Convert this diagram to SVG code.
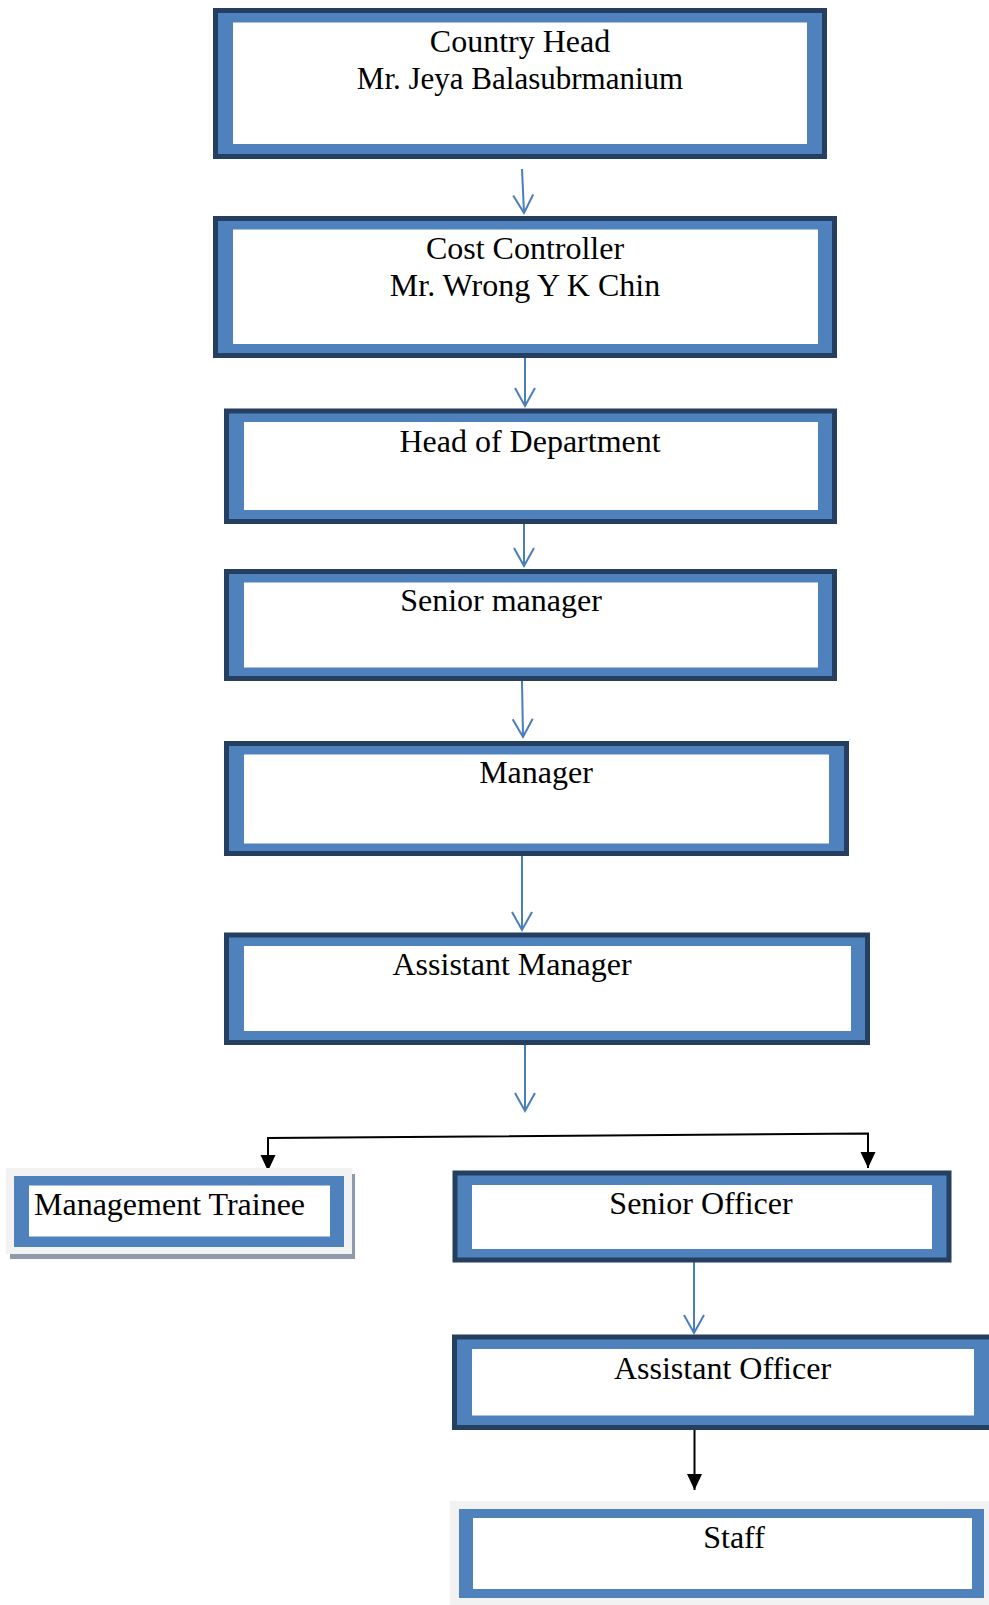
<svg xmlns="http://www.w3.org/2000/svg" width="989" height="1605" viewBox="0 0 989 1605">
<style>
.dark{fill:#243F60}
.blue{fill:#4F81BD}
.white{fill:#FFFFFF}
.lbl{font-family:"Liberation Serif","Times New Roman",serif;font-size:32px;fill:#000;text-anchor:middle}
.bc{stroke:#4A7EBB;stroke-width:2;fill:none}
.kc{stroke:#000;stroke-width:2;fill:none}
</style>
<defs>
<marker id="openBlue" markerUnits="userSpaceOnUse" markerWidth="30" markerHeight="30" refX="0" refY="0" orient="auto" overflow="visible">
<path d="M-18,-10 L0,0 L-18,10" fill="none" stroke="#4A7EBB" stroke-width="2"/>
</marker>
<marker id="solidBlack" markerUnits="userSpaceOnUse" markerWidth="20" markerHeight="20" refX="0" refY="0" orient="auto" overflow="visible">
<path d="M-16,-7.5 L0,0 L-16,7.5 Z" fill="#000"/>
</marker>
</defs>
<rect width="989" height="1605" fill="#FFFFFF"/>

<g id="connectors">
<line class="bc" x1="522" y1="169" x2="524" y2="213" marker-end="url(#openBlue)"/>
<line class="bc" x1="525" y1="358" x2="525" y2="406" marker-end="url(#openBlue)"/>
<line class="bc" x1="524" y1="524" x2="524" y2="566" marker-end="url(#openBlue)"/>
<line class="bc" x1="522" y1="681" x2="523" y2="737" marker-end="url(#openBlue)"/>
<line class="bc" x1="522" y1="856" x2="522" y2="930" marker-end="url(#openBlue)"/>
<line class="bc" x1="525" y1="1045" x2="525" y2="1111" marker-end="url(#openBlue)"/>
<path class="kc" d="M268,1150 L268,1138 L868,1133.5 L868,1150"/>
<line class="kc" x1="268" y1="1150" x2="268" y2="1171" marker-end="url(#solidBlack)"/>
<line class="kc" x1="868" y1="1150" x2="868" y2="1168" marker-end="url(#solidBlack)"/>
<line class="bc" x1="694" y1="1262" x2="694" y2="1333" marker-end="url(#openBlue)"/>
<line class="kc" x1="694.5" y1="1430" x2="694.5" y2="1490" marker-end="url(#solidBlack)"/>
</g>

<g id="country-head">
<rect class="dark" x="213" y="8" width="614" height="151"/>
<rect class="blue" x="218" y="13" width="604" height="141"/>
<rect class="white" x="233" y="22.5" width="574" height="121.5"/>
<text class="lbl" x="520" y="51.5">Country Head</text>
<text class="lbl" x="520" y="88.5" style="font-size:31px">Mr. Jeya Balasubrmanium</text>
</g>

<g id="cost-controller">
<rect class="dark" x="213" y="216" width="624" height="142"/>
<rect class="blue" x="218" y="221" width="614" height="132"/>
<rect class="white" x="233" y="229.5" width="585" height="114.5"/>
<text class="lbl" x="525" y="259">Cost Controller</text>
<text class="lbl" x="525" y="296">Mr. Wrong Y K Chin</text>
</g>

<g id="head-of-department">
<rect class="dark" x="224" y="408.5" width="613" height="115.5"/>
<rect class="blue" x="229" y="413.5" width="603" height="105.5"/>
<rect class="white" x="244" y="422" width="574" height="88"/>
<text class="lbl" x="530" y="451.5">Head of Department</text>
</g>

<g id="senior-manager">
<rect class="dark" x="224" y="569" width="613" height="112"/>
<rect class="blue" x="229" y="574" width="603" height="102"/>
<rect class="white" x="244" y="582.5" width="574" height="85"/>
<text class="lbl" x="501" y="611">Senior manager</text>
</g>

<g id="manager">
<rect class="dark" x="224" y="741" width="625" height="115"/>
<rect class="blue" x="229" y="746" width="615" height="105"/>
<rect class="white" x="244" y="754.5" width="585" height="89"/>
<text class="lbl" x="536" y="783">Manager</text>
</g>

<g id="assistant-manager">
<rect class="dark" x="224" y="932.5" width="646" height="112.5"/>
<rect class="blue" x="229" y="937.5" width="636" height="102.5"/>
<rect class="white" x="244" y="946" width="607" height="85"/>
<text class="lbl" x="512" y="975">Assistant Manager</text>
</g>

<g id="management-trainee">
<rect x="10" y="1174" width="345" height="85" fill="#8E9BAD"/>
<rect x="6" y="1168" width="346" height="86" fill="#F2F2F2"/>
<rect class="blue" x="14" y="1176" width="330" height="71"/>
<rect class="white" x="29" y="1185.5" width="301" height="51"/>
<text class="lbl" x="34" y="1215" style="text-anchor:start">Management Trainee</text>
</g>

<g id="senior-officer">
<rect class="dark" x="452.5" y="1170.5" width="499" height="92"/>
<rect class="blue" x="457.5" y="1175.5" width="489" height="82"/>
<rect class="white" x="472" y="1185" width="460" height="64"/>
<text class="lbl" x="701" y="1214">Senior Officer</text>
</g>

<g id="assistant-officer">
<rect class="dark" x="452" y="1334.5" width="545" height="95.5"/>
<rect class="blue" x="457" y="1339.5" width="535" height="85.5"/>
<rect class="white" x="472" y="1349" width="502" height="66.5"/>
<text class="lbl" x="722.5" y="1379">Assistant Officer</text>
</g>

<g id="staff">
<rect x="450" y="1501" width="539" height="104" fill="#F2F2F2"/>
<rect class="blue" x="459" y="1509" width="525" height="89"/>
<rect class="white" x="473" y="1518" width="499" height="71"/>
<text class="lbl" x="734" y="1548">Staff</text>
</g>
</svg>
